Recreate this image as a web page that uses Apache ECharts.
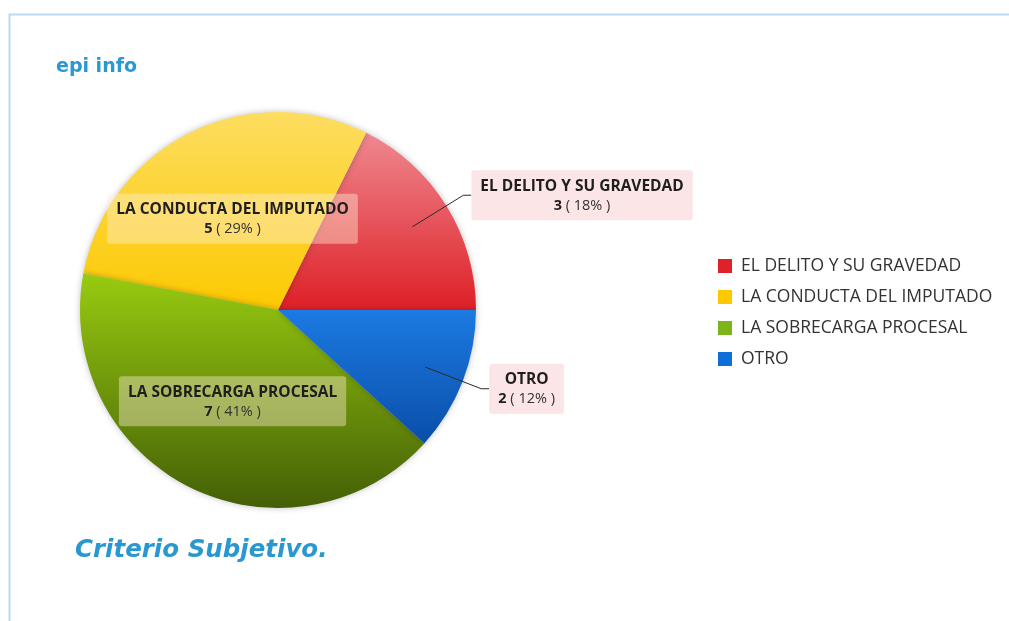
<!DOCTYPE html>
<html>
<head>
<meta charset="utf-8">
<script src="https://cdn.jsdelivr.net/npm/echarts@6/dist/echarts.min.js"></script>
<style>
  html, body { margin: 0; padding: 0; background: #fff; }
  #chart { width: 1009px; height: 621px; }
</style>
</head>
<body>
<div id="chart"></div>
<script>
const categories = ["EL DELITO Y SU GRAVEDAD", "LA CONDUCTA DEL IMPUTADO", "LA SOBRECARGA PROCESAL", "OTRO"];
const counts = [3, 5, 7, 2];

// top / bottom colour of each slice's vertical shading
const sliceColors = [
  ["#ef8890", "#de1f26"],
  ["#fddd60", "#fcc900"],
  ["#98cb10", "#445f06"],
  ["#1c7ae2", "#0a4ea8"]
];
const legendColors = ["#df2228", "#fcc800", "#7cb519", "#0f6fd8"];
const insideLabel = [false, true, true, false];

const chart = echarts.init(document.getElementById("chart"));

const grad = (c) => new echarts.graphic.LinearGradient(0, 0, 0, 1, [
  { offset: 0, color: c[0] },
  { offset: 1, color: c[1] }
]);

const FONT = "'Open Sans', sans-serif";
const labelRich = {
  b: { fontFamily: FONT, fontWeight: "bold", fontSize: 15.5, color: "#1e1e1e", lineHeight: 20, align: "center" },
  n: { fontFamily: FONT, fontWeight: "bold", fontSize: 14.5, color: "#1e1e1e", lineHeight: 19, align: "center" },
  p: { fontFamily: FONT, fontSize: 14.5, color: "#333", lineHeight: 19, align: "center" }
};
const labelFormat = "{b|{b}}\n{n|{c}}{p| ( {d}% )}";

// main pie: coloured slices + inside labels
const sliceData = categories.map((name, i) => ({
  name,
  value: counts[i],
  itemStyle: { color: grad(sliceColors[i]) },
  label: { show: insideLabel[i] }
}));

// transparent helper pie: leader lines start inside the slice, outside labels
const calloutData = categories.map((name, i) => ({
  name,
  value: counts[i],
  label: { show: !insideLabel[i] },
  labelLine: { show: !insideLabel[i] }
}));

const option = {
  animation: false,
  color: legendColors,
  graphic: [
    {
      type: "rect",
      shape: { x: 9.5, y: 14.5, width: 1100, height: 700 },
      style: { fill: "none", stroke: "#bed6f0", lineWidth: 2 },
      silent: true
    },
    {
      type: "text",
      left: 56,
      top: 58,
      style: {
        text: "epi info",
        font: "bold 19px 'DejaVu Sans', Verdana, sans-serif",
        fill: "#2b98cf"
      }
    },
    {
      type: "text",
      left: 75,
      top: 538,
      style: {
        text: "Criterio Subjetivo.",
        font: "italic bold 24.5px 'DejaVu Sans', Verdana, sans-serif",
        fill: "#2a98d0"
      }
    }
  ],
  legend: {
    orient: "vertical",
    left: 718,
    top: 257,
    padding: 0,
    itemWidth: 14,
    itemHeight: 14,
    itemGap: 13,
    icon: "rect",
    data: categories.map((name, i) => ({ name, itemStyle: { color: legendColors[i] } })),
    textStyle: {
      fontFamily: FONT,
      fontSize: 17.5,
      color: "#333",
      padding: [0, 0, 0, 4]
    }
  },
  series: [
    {
      type: "pie",
      z: 2,
      center: [278, 310],
      radius: 198,
      startAngle: 0,
      clockwise: false,
      percentPrecision: 0,
      data: sliceData,
      itemStyle: {
        shadowBlur: 6,
        shadowColor: "rgba(0,0,0,0.25)"
      },
      label: {
        position: "inside",
        formatter: labelFormat,
        backgroundColor: "rgba(255,238,215,0.42)",
        borderRadius: 3,
        padding: [6, 9, 5, 9],
        rich: labelRich
      },
      labelLine: { show: false }
    },
    {
      type: "pie",
      z: 5,
      center: [278, 310],
      radius: 158,
      startAngle: 0,
      clockwise: false,
      percentPrecision: 0,
      silent: true,
      data: calloutData,
      itemStyle: { color: "rgba(0,0,0,0)" },
      label: {
        position: "outside",
        formatter: labelFormat,
        backgroundColor: "#fce5e7",
        borderRadius: 3,
        padding: [6, 9, 5, 9],
        distanceToLabelLine: 0,
        rich: labelRich
      },
      labelLine: {
        length: 60,
        length2: 8,
        lineStyle: { color: "#2a2a2a", width: 1 }
      }
    }
  ]
};

chart.setOption(option);
</script>
</body>
</html>
